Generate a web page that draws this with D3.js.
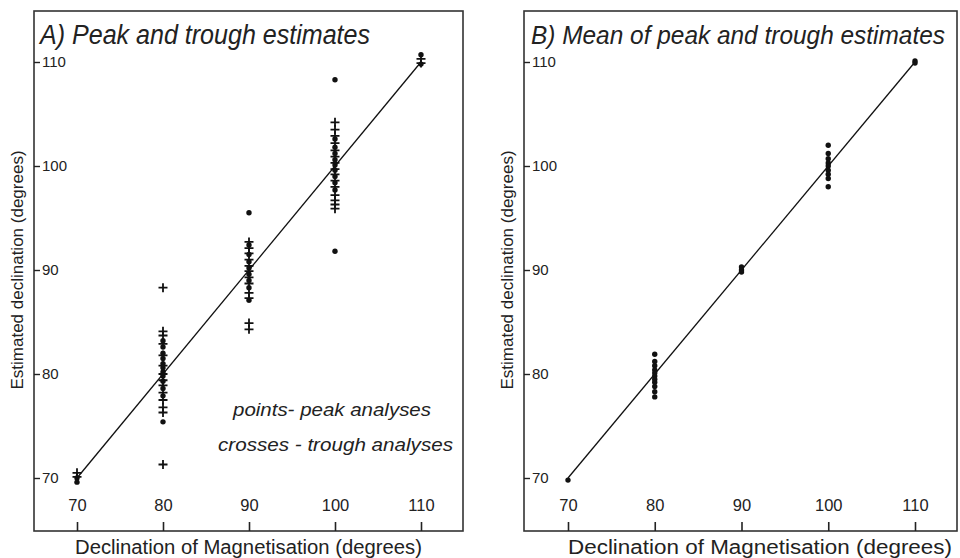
<!DOCTYPE html>
<html>
<head>
<meta charset="utf-8">
<script src="https://cdn.jsdelivr.net/npm/d3@7"></script>
<style>
  html, body { margin: 0; padding: 0; background: #fff; }
  svg { display: block; }
  text { font-family: "Liberation Sans", Arial, sans-serif; fill: #222; }
</style>
</head>
<body>
<svg id="chart" width="960" height="558"></svg>
<script>
// Declination values that were set in the models (x positions)
const declinations = [70, 80, 90, 100, 110];
const tickValues = [70, 80, 90, 100, 110];

// Panel A: peak-analysis estimates (points)
const peak70 = [69.6, 70.0];
const peak80 = [83.2, 82.6, 82.0, 81.5, 81.0, 80.6, 80.2, 79.8, 79.3, 78.6, 77.9, 75.4];
const peak90 = [95.5, 92.4, 91.5, 90.8, 90.2, 89.6, 89.0, 88.3, 87.1];
const peak100 = [108.3, 102.6, 101.8, 101.2, 100.6, 100.1, 99.6, 99.0, 98.4, 97.7, 91.8];
const peak110 = [110.7, 109.8];

// Panel A: trough-analysis estimates (crosses)
const trough70 = [70.5, 70.1];
const trough80 = [88.3, 84.1, 83.7, 82.9, 81.8, 80.8, 80.0, 79.4, 78.9, 78.2, 77.5, 76.8, 76.3, 71.3];
const trough90 = [92.7, 92.1, 91.6, 91.0, 90.4, 89.9, 89.3, 88.7, 87.8, 87.3, 84.9, 84.3];
const trough100 = [104.2, 103.5, 102.9, 102.2, 101.5, 100.9, 100.3, 99.7, 99.2, 98.6, 98.0, 97.2, 96.7, 96.3, 95.9];
const trough110 = [110.3, 109.9];

// Panel B: mean of peak and trough estimates
const mean70 = [69.8];
const mean80 = [81.9, 81.2, 80.8, 80.4, 80.1, 79.8, 79.5, 79.2, 78.8, 78.3, 77.8];
const mean90 = [90.3, 90.0, 89.8];
const mean100 = [102.0, 101.2, 100.7, 100.3, 100.0, 99.6, 99.2, 98.8, 98.0];
const mean110 = [110.1, 109.9];

const peakSets = [peak70, peak80, peak90, peak100, peak110];
const troughSets = [trough70, trough80, trough90, trough100, trough110];
const meanSets = [mean70, mean80, mean90, mean100, mean110];

function flatten(sets) {
  return sets.flatMap((vals, i) => vals.map(v => ({ x: declinations[i], y: v })));
}

const svg = d3.select("#chart");

function drawPanel(cfg) {
  const g = svg.append("g");
  const x = d3.scaleLinear().domain([70, 110]).range(cfg.xRange);
  const y = d3.scaleLinear().domain([70, 110]).range([478, 62]);

  // frame
  g.append("rect")
    .attr("x", cfg.frame[0]).attr("y", cfg.frame[1])
    .attr("width", cfg.frame[2] - cfg.frame[0])
    .attr("height", cfg.frame[3] - cfg.frame[1])
    .attr("fill", "#fff").attr("stroke", "#333").attr("stroke-width", 1.6);

  // x axis: ticks point up from the bottom edge, labels above them
  const xAxis = d3.axisTop(x).tickValues(tickValues).tickSize(9).tickPadding(11);
  const xg = g.append("g").attr("transform", `translate(0,${cfg.frame[3]})`).call(xAxis);
  xg.select(".domain").remove();
  xg.selectAll(".tick line").attr("stroke", "#222").attr("stroke-width", 1.6);
  xg.selectAll(".tick text").attr("font-size", 16.5).attr("fill", "#222");

  // y axis: ticks point right from the left edge, labels beside them
  const yAxis = d3.axisRight(y).tickValues(tickValues).tickSize(6).tickPadding(2);
  const yg = g.append("g").attr("transform", `translate(${cfg.frame[0]},0)`).call(yAxis);
  yg.select(".domain").remove();
  yg.selectAll(".tick line").attr("stroke", "#222").attr("stroke-width", 1.4);
  yg.selectAll(".tick text").attr("font-size", 15).attr("fill", "#222");

  // 1:1 reference line
  g.append("line")
    .attr("x1", x(70)).attr("y1", y(70))
    .attr("x2", x(110)).attr("y2", y(110))
    .attr("stroke", "#111").attr("stroke-width", 1.3);

  // points
  g.append("g").selectAll("circle")
    .data(cfg.points)
    .join("circle")
    .attr("cx", d => x(d.x)).attr("cy", d => y(d.y))
    .attr("r", 2.7).attr("fill", "#111");

  // crosses
  if (cfg.crosses) {
    g.append("g").selectAll("path")
      .data(cfg.crosses)
      .join("path")
      .attr("d", d => {
        const cx = x(d.x), cy = y(d.y), s = 4.5;
        return `M${cx - s},${cy}H${cx + s}M${cx},${cy - s}V${cy + s}`;
      })
      .attr("stroke", "#111").attr("stroke-width", 1.8).attr("fill", "none");
  }

  // title: slightly condensed italic, stretched vertically
  g.append("text")
    .attr("transform", `translate(${cfg.titleX},44) scale(1,1.08)`)
    .attr("font-size", cfg.titleSize).attr("font-style", "italic")
    .attr("textLength", cfg.titleWidth).attr("lengthAdjust", "spacingAndGlyphs")
    .text(cfg.title);

  // axis titles
  g.append("text")
    .attr("x", cfg.xLabelX).attr("y", 554)
    .attr("font-size", 20)
    .attr("textLength", cfg.xLabelWidth).attr("lengthAdjust", "spacingAndGlyphs")
    .text("Declination of Magnetisation (degrees)");

  g.append("text")
    .attr("transform", `translate(${cfg.frame[0] - 11},270) rotate(-90)`)
    .attr("text-anchor", "middle").attr("font-size", 17)
    .text("Estimated declination (degrees)");

  return { g, x, y };
}

const panelA = drawPanel({
  frame: [34, 11, 463, 531],
  xRange: [77, 421],
  title: "A) Peak and trough estimates",
  titleX: 40, titleWidth: 330, titleSize: 25,
  xLabelX: 75, xLabelWidth: 347,
  points: flatten(peakSets),
  crosses: flatten(troughSets)
});

// legend notes inside panel A
panelA.g.append("text")
  .attr("x", 233).attr("y", 416)
  .attr("font-size", 19).attr("font-style", "italic")
  .attr("textLength", 198).attr("lengthAdjust", "spacingAndGlyphs")
  .text("points- peak analyses");
panelA.g.append("text")
  .attr("x", 218).attr("y", 451)
  .attr("font-size", 19).attr("font-style", "italic")
  .attr("textLength", 235).attr("lengthAdjust", "spacingAndGlyphs")
  .text("crosses - trough analyses");

drawPanel({
  frame: [524, 11, 957, 531],
  xRange: [568, 915],
  title: "B) Mean of peak and trough estimates",
  titleX: 531, titleWidth: 414, titleSize: 24,
  xLabelX: 568, xLabelWidth: 384,
  points: flatten(meanSets),
  crosses: null
});
</script>
</body>
</html>
